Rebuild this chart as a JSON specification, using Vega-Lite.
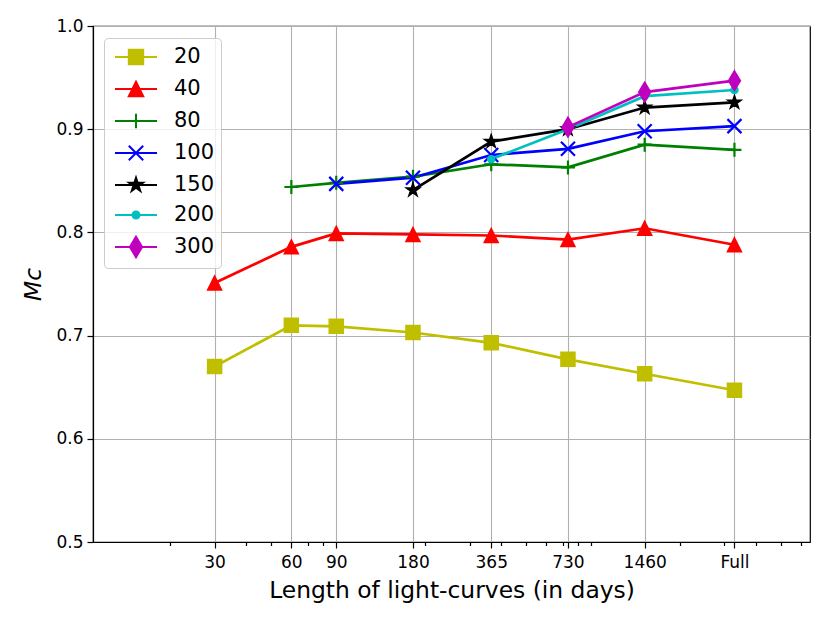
{
  "$schema": "https://vega.github.io/schema/vega-lite/v6.json",
  "width": 717,
  "height": 516,
  "autosize": {"type": "none"},
  "padding": {"left": 93, "top": 26, "right": 20, "bottom": 81},
  "background": "white",
  "data": {
    "values": [
      {"series": "20", "days": 30, "mc": 0.670},
      {"series": "20", "days": 60, "mc": 0.710},
      {"series": "20", "days": 90, "mc": 0.709},
      {"series": "20", "days": 180, "mc": 0.703},
      {"series": "20", "days": 365, "mc": 0.693},
      {"series": "20", "days": 730, "mc": 0.677},
      {"series": "20", "days": 1460, "mc": 0.663},
      {"series": "20", "days": 3285, "mc": 0.647},
      {"series": "40", "days": 30, "mc": 0.751},
      {"series": "40", "days": 60, "mc": 0.786},
      {"series": "40", "days": 90, "mc": 0.799},
      {"series": "40", "days": 180, "mc": 0.798},
      {"series": "40", "days": 365, "mc": 0.797},
      {"series": "40", "days": 730, "mc": 0.793},
      {"series": "40", "days": 1460, "mc": 0.804},
      {"series": "40", "days": 3285, "mc": 0.788},
      {"series": "80", "days": 60, "mc": 0.844},
      {"series": "80", "days": 90, "mc": 0.848},
      {"series": "80", "days": 180, "mc": 0.854},
      {"series": "80", "days": 365, "mc": 0.866},
      {"series": "80", "days": 730, "mc": 0.863},
      {"series": "80", "days": 1460, "mc": 0.885},
      {"series": "80", "days": 3285, "mc": 0.880},
      {"series": "100", "days": 90, "mc": 0.847},
      {"series": "100", "days": 180, "mc": 0.853},
      {"series": "100", "days": 365, "mc": 0.875},
      {"series": "100", "days": 730, "mc": 0.881},
      {"series": "100", "days": 1460, "mc": 0.898},
      {"series": "100", "days": 3285, "mc": 0.903},
      {"series": "150", "days": 180, "mc": 0.841},
      {"series": "150", "days": 365, "mc": 0.888},
      {"series": "150", "days": 730, "mc": 0.900},
      {"series": "150", "days": 1460, "mc": 0.921},
      {"series": "150", "days": 3285, "mc": 0.926},
      {"series": "200", "days": 365, "mc": 0.871},
      {"series": "200", "days": 730, "mc": 0.900},
      {"series": "200", "days": 1460, "mc": 0.932},
      {"series": "200", "days": 3285, "mc": 0.938},
      {"series": "300", "days": 730, "mc": 0.902},
      {"series": "300", "days": 1460, "mc": 0.936},
      {"series": "300", "days": 3285, "mc": 0.947}
    ]
  },
  "encoding": {
    "x": {
      "field": "days",
      "type": "quantitative",
      "scale": {"type": "log", "domain": [10, 6500], "nice": false},
      "axis": {
        "title": "Length of light-curves (in days)",
        "values": [20, 30, 40, 50, 60, 70, 80, 90, 180, 200, 300, 365, 400, 500, 600, 700, 730, 800, 900, 1460, 2000, 3000, 3285, 4000, 5000, 6000],
        "labelExpr": "datum.value == 3285 ? 'Full' : (indexof([30, 60, 90, 180, 365, 730, 1460], datum.value) >= 0 ? toString(datum.value) : '')",
        "tickSize": {"condition": {"test": "indexof([30, 60, 90, 180, 365, 730, 1460, 3285], datum.value) >= 0", "value": 6}, "value": 3.5},
        "gridOpacity": {"condition": {"test": "indexof([30, 60, 90, 180, 365, 730, 1460, 3285], datum.value) >= 0", "value": 1}, "value": 0},
        "labelOverlap": false,
        "labelFlush": false,
        "labelBound": false,
        "labelPadding": 6,
        "titlePadding": 9
      }
    },
    "y": {
      "field": "mc",
      "type": "quantitative",
      "scale": {"domain": [0.5, 1.0], "nice": false, "zero": false},
      "axis": {
        "title": "Mc",
        "titleFontStyle": "italic",
        "values": [0.5, 0.6, 0.7, 0.8, 0.9, 1.0],
        "format": ".1f",
        "tickSize": 6,
        "labelPadding": 4,
        "titlePadding": 10
      }
    }
  },
  "layer": [
    {
      "mark": {"type": "line", "strokeWidth": 2.7},
      "encoding": {
        "color": {
          "field": "series",
          "type": "nominal",
          "scale": {
            "domain": ["20", "40", "80", "100", "150", "200", "300"],
            "range": ["#bfbf00", "#ff0000", "#008000", "#0000ff", "#000000", "#00bfbf", "#bf00bf"]
          },
          "legend": {
            "title": null,
            "orient": "none",
            "legendX": 11,
            "legendY": 12,
            "padding": 6,
            "fillColor": "rgba(255,255,255,0.8)",
            "strokeColor": "#cccccc",
            "cornerRadius": 4,
            "labelFont": "DejaVu Sans",
            "labelFontSize": 21,
            "labelColor": "black",
            "symbolSize": 576,
            "symbolStrokeWidth": 2,
            "symbolOffset": 13,
            "labelOffset": 25,
            "rowPadding": 7,
            "encode": {
              "symbols": {
                "update": {
                  "shape": {"signal": "datum.value == '20' ? 'M-1.75,0H1.75M-0.6,-0.6H0.6V0.6H-0.6Z' : datum.value == '40' ? 'M-1.75,0H1.75M0,-0.6L0.6,0.6H-0.6Z' : datum.value == '80' ? 'M-1.75,0H1.75M0,-0.6V0.6' : datum.value == '100' ? 'M-1.75,0H1.75M-0.6,-0.6L0.6,0.6M-0.6,0.6L0.6,-0.6' : datum.value == '150' ? 'M-1.75,0H1.75M0,-0.6L-0.135,-0.185L-0.571,-0.185L-0.218,0.071L-0.353,0.485L0,0.229L0.353,0.485L0.218,0.071L0.571,-0.185L0.135,-0.185Z' : datum.value == '200' ? 'M-1.75,0H1.75M-0.3,0A0.3,0.3 0 1,0 0.3,0A0.3,0.3 0 1,0 -0.3,0Z' : 'M-1.75,0H1.75M0,-0.85L0.51,0L0,0.85L-0.51,0Z'"},
                  "fill": {"signal": "scale('color', datum.value)"},
                  "stroke": {"signal": "scale('color', datum.value)"},
                  "strokeWidth": {"value": 2},
                  "opacity": {"value": 1},
                  "fillOpacity": {"value": 1}
                }
              }
            }
          }
        }
      }
    },
    {
      "mark": {"type": "point", "filled": true, "size": 196, "opacity": 1},
      "encoding": {
        "shape": {
          "condition": [
            {"test": "datum.series == '20'", "value": "M-1,-1H1V1H-1Z"},
            {"test": "datum.series == '40'", "value": "M0,-1L1,1H-1Z"},
            {"test": "datum.series == '80'", "value": "M-1,0H1M0,-1V1"},
            {"test": "datum.series == '100'", "value": "M-1,-1L1,1M-1,1L1,-1"},
            {"test": "datum.series == '150'", "value": "M0,-1L-0.2245,-0.309L-0.951,-0.309L-0.363,0.118L-0.588,0.809L0,0.382L0.588,0.809L0.363,0.118L0.951,-0.309L0.2245,-0.309Z"},
            {"test": "datum.series == '200'", "value": "M-0.5,0A0.5,0.5 0 1,0 0.5,0A0.5,0.5 0 1,0 -0.5,0Z"}
          ],
          "value": "M0,-1.414L0.849,0L0,1.414L-0.849,0Z"
        },
        "strokeWidth": {
          "condition": {"test": "datum.series == '80' || datum.series == '100'", "value": 2.2},
          "value": 1.5
        },
        "fill": {
          "field": "series",
          "type": "nominal",
          "legend": null,
          "scale": {
            "domain": ["20", "40", "80", "100", "150", "200", "300"],
            "range": ["#bfbf00", "#ff0000", "#008000", "#0000ff", "#000000", "#00bfbf", "#bf00bf"]
          }
        },
        "stroke": {
          "field": "series",
          "type": "nominal",
          "legend": null,
          "scale": {
            "domain": ["20", "40", "80", "100", "150", "200", "300"],
            "range": ["#bfbf00", "#ff0000", "#008000", "#0000ff", "#000000", "#00bfbf", "#bf00bf"]
          }
        }
      }
    }
  ],
  "config": {
    "font": "DejaVu Sans",
    "view": {"stroke": "black", "strokeWidth": 1.2},
    "axis": {
      "labelFont": "DejaVu Sans",
      "labelFontSize": 17,
      "labelColor": "black",
      "titleFont": "DejaVu Sans",
      "titleFontSize": 23.4,
      "titleFontWeight": "normal",
      "titleColor": "black",
      "domainColor": "black",
      "domainWidth": 1.2,
      "tickColor": "black",
      "tickWidth": 1.2,
      "grid": true,
      "gridColor": "#b0b0b0",
      "gridWidth": 1.1
    }
  }
}
